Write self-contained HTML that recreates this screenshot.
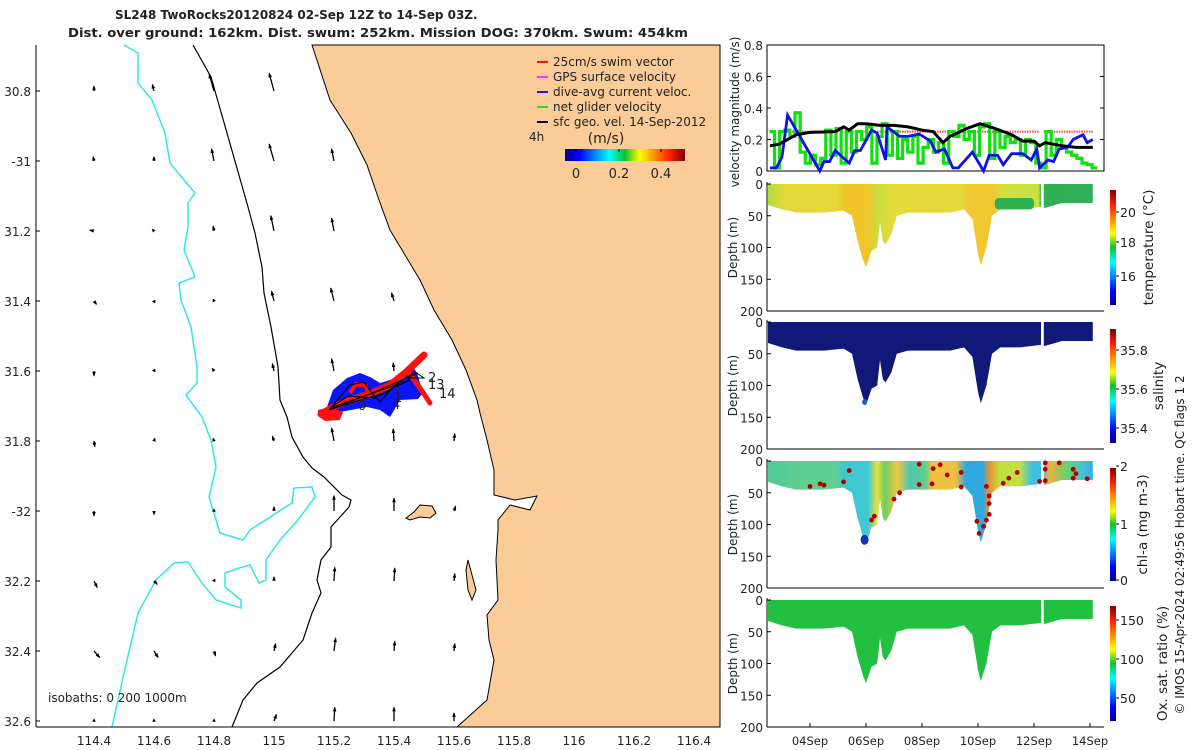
<!DOCTYPE html>
<html><head><meta charset="utf-8"><style>
body{margin:0;background:#fff}
svg{display:block;font-family:"DejaVu Sans","Liberation Sans",sans-serif}
text{fill:#222}
</style></head><body>
<svg id="s" width="1200" height="750" viewBox="0 0 1200 750" xmlns="http://www.w3.org/2000/svg">
<defs>
<linearGradient id="jet" x1="0" y1="1" x2="0" y2="0">
<stop offset="0" stop-color="#00008f"/><stop offset="0.12" stop-color="#0000ff"/><stop offset="0.37" stop-color="#00ffff"/><stop offset="0.5" stop-color="#10c030"/><stop offset="0.62" stop-color="#ffff00"/><stop offset="0.87" stop-color="#ff2000"/><stop offset="1" stop-color="#800000"/></linearGradient>
<linearGradient id="jeth" x1="0" y1="0" x2="1" y2="0">
<stop offset="0" stop-color="#00008f"/><stop offset="0.12" stop-color="#0000ff"/><stop offset="0.37" stop-color="#00ffff"/><stop offset="0.5" stop-color="#10c030"/><stop offset="0.62" stop-color="#ffff00"/><stop offset="0.87" stop-color="#ff2000"/><stop offset="1" stop-color="#800000"/></linearGradient>
<linearGradient id="tempG" gradientUnits="userSpaceOnUse" x1="767" y1="0" x2="1104" y2="0">
<stop offset="0" stop-color="#b0dc40"/><stop offset="0.05" stop-color="#e4d83a"/><stop offset="0.21" stop-color="#e6d83a"/><stop offset="0.23" stop-color="#f0c42a"/><stop offset="0.3" stop-color="#f0c42a"/><stop offset="0.33" stop-color="#c8e040"/><stop offset="0.37" stop-color="#e4da3a"/><stop offset="0.58" stop-color="#e6d83a"/><stop offset="0.6" stop-color="#f0c830"/><stop offset="0.67" stop-color="#f0c830"/><stop offset="0.7" stop-color="#d4e040"/><stop offset="0.805" stop-color="#c8e040"/><stop offset="0.815" stop-color="#30b050"/><stop offset="1" stop-color="#30b060"/></linearGradient>
<linearGradient id="chlG" gradientUnits="userSpaceOnUse" x1="767" y1="0" x2="1104" y2="0">
<stop offset="0" stop-color="#50c8a0"/><stop offset="0.1" stop-color="#60d090"/><stop offset="0.2" stop-color="#60d090"/><stop offset="0.23" stop-color="#40c8d0"/><stop offset="0.3" stop-color="#40c8d0"/><stop offset="0.326" stop-color="#e8e040"/><stop offset="0.35" stop-color="#70d060"/><stop offset="0.386" stop-color="#f0c840"/><stop offset="0.424" stop-color="#50c8b0"/><stop offset="0.47" stop-color="#60cc90"/><stop offset="0.49" stop-color="#f0c040"/><stop offset="0.56" stop-color="#f0c040"/><stop offset="0.59" stop-color="#30a8e0"/><stop offset="0.64" stop-color="#30a8e0"/><stop offset="0.66" stop-color="#e89030"/><stop offset="0.69" stop-color="#c0e040"/><stop offset="0.75" stop-color="#c0e040"/><stop offset="0.786" stop-color="#40c0e0"/><stop offset="0.815" stop-color="#40c0e0"/><stop offset="0.84" stop-color="#f0b040"/><stop offset="0.884" stop-color="#70d060"/><stop offset="0.944" stop-color="#40c0e0"/><stop offset="1" stop-color="#3090e0"/></linearGradient>
</defs>
<rect width="1200" height="750" fill="#fff"/>
<g id="map"></g>
<g id="right"></g>
</svg>
<script>
// ---------- DATA ----------
const lonTicks=[114.4,114.6,114.8,115,115.2,115.4,115.6,115.8,116,116.2,116.4];
const latTicks=[30.8,31,31.2,31.4,31.6,31.8,32,32.2,32.4,32.6];
const latTickLabels=["30.8","-31","31.2","31.4","31.6","31.8","-32","32.2","32.4","32.6"];
const vecLons=[114.4,114.6,114.8,115.0,115.2,115.4,115.6];
const vecU=[[0,-2,-6,-6,null,null,null],[-1,0,-3,-6,-3,null,null],[-5,-2,-1,-4,-3,null,null],[3,1,-1,-3,-4,-3,null],[0,1,-2,-2,-3,-1,null],[1,1,-1,-2,-3,-1,1],[0,0,0,0,0,0,2],[4,4,1,0,1,1,1],[7,5,2,2,2,1,1],[0,0,0,3,1,0,0]];
const vecV=[[6,8,21,22,null,null,null],[5,5,15,21,15,null,null],[1,2,6,19,16,null,null],[-4,-2,2,12,16,10,null],[-6,2,3,9,15,10,null],[-7,3,3,6,16,15,9],[-6,-4,2,5,19,16,6],[-8,-4,2,5,17,16,9],[-8,-8,-6,9,16,12,9],[2,2,2,8,17,17,10]];
// velocity panel
const velStart=2.55, velStep=0.183;
const netGlider=[0.25,0.02,0.25,0.26,0.22,0.37,0.12,0.05,0.10,0.04,0.08,0.26,0.10,0.27,0.05,0.25,0.12,0.25,0.20,0.28,0.05,0.22,0.30,0.10,0.25,0.08,0.20,0.12,0.22,0.05,0.15,0.20,0.12,0.18,0.05,0.25,0.22,0.29,0.20,0.25,0.10,0.28,0.30,0.08,0.25,0.15,0.22,0.18,0.20,0.10,0.20,0.18,0.05,0.02,0.25,0.10,0.20,0.15,0.12,0.10,0.08,0.05,0.04,0.02];
const geoDays=[2.57,2.9,3.5,4.0,4.9,5.2,5.4,5.7,6.0,6.5,7.0,7.5,8.0,8.4,8.75,9.0,9.6,10.07,10.6,11.2,11.6,12.0,12.2,12.4,13.0,13.5,14.1];
const geoVel=[0.16,0.17,0.23,0.245,0.25,0.28,0.26,0.30,0.30,0.29,0.29,0.28,0.26,0.25,0.18,0.22,0.27,0.30,0.27,0.23,0.19,0.19,0.16,0.18,0.16,0.15,0.15];
const daDays=[2.57,2.8,3.0,3.2,4.35,4.5,4.7,4.9,5.4,5.6,5.8,6.2,6.4,6.7,6.75,7.2,7.5,7.9,8.3,8.5,8.8,9.1,9.3,9.8,10.2,10.4,10.7,10.9,11.2,11.6,11.9,12.1,12.2,12.5,12.7,12.9,13.2,13.4,13.75,13.9,14.1];
const daVel=[0.02,0.02,0.09,0.355,0,0.06,0.06,0.13,0.05,0.13,0.13,0.26,0.24,0.07,0.28,0.22,0.22,0.235,0.19,0.12,0.14,0.02,0.02,0.12,0,0.1,0.1,0.04,0.11,0.11,0.07,0.14,0.02,0.07,0.06,0.14,0.15,0.2,0.23,0.18,0.2];
const swimSegs=[[3.0,12.2],[12.35,14.1]];
const swimVel=0.25;
// section profile (max depth of dives)
const profDays=[2.5,3.0,3.5,4.5,5.2,5.5,5.7,5.9,6.0,6.2,6.4,6.5,6.6,6.7,6.9,7.1,7.5,8.0,9.0,9.5,9.8,10.0,10.1,10.3,10.5,10.8,11.5,12.25];
const profDepth=[33,40,45,45,42,50,90,120,131,105,100,60,90,95,80,50,45,45,45,40,55,110,128,100,50,40,40,36];
const prof2Days=[12.35,12.6,13.0,13.5,14.1];
const prof2Depth=[38,35,30,30,30];
const chlDotDay=[4.0,4.36,5.4,6.2,6.3,7.0,7.2,7.9,7.9,8.4,8.36,8.65,8.9,9.4,9.4,9.96,10.04,10.2,10.3,10.4,10.4,10.4,10.3,10.9,11.1,11.4,12.2,12.4,12.4,12.4,12.9,13.4,13.4,13.9,13.5,4.5,5.2];
const chlDotDepth=[40,36,15,93,87,60,50,5,37,12,36,6,22,18,41,95,114,103,93,84,67,55,40,35,27,18,32,3,13,31,3,13,27,28,20,38,33];
const dateTicks=[4,6,8,10,12,14];
const dateLabels=["04Sep","06Sep","08Sep","10Sep","12Sep","14Sep"];

// ---------- helpers ----------
const NS="http://www.w3.org/2000/svg";
function mk(tag,attrs,parent,txt){const e=document.createElementNS(NS,tag);for(const k in attrs)e.setAttribute(k,attrs[k]);if(txt!==undefined)e.textContent=txt;parent.appendChild(e);return e;}
const map=document.getElementById('map'), right=document.getElementById('right');
const lx=l=>94+(l-114.4)*300, ly=l=>91+(l-30.8)*350;

// ---------- MAP ----------
let t=mk('text',{x:115,y:19,'font-size':12,'font-weight':'bold','text-anchor':'start'},map,"SL248 TwoRocks20120824 02-Sep 12Z to 14-Sep 03Z.");


t=mk('text',{x:378,y:37,'font-size':12,'font-weight':'bold','text-anchor':'middle',textLength:620,lengthAdjust:'spacingAndGlyphs'},map,"Dist. over ground: 162km. Dist. swum: 252km. Mission DOG: 370km. Swum: 454km");



const coast=[[312,45],[330,100],[351,133],[367,165],[379,200],[390,230],[420,280],[434,310],[452,340],[466,370],[477,400],[480,413],[487,440],[494,470],[494,495],[515,500],[537,496],[530,510],[510,505],[498,520],[498,530],[496,560],[498,600],[487,615],[489,640],[494,660],[487,700],[457,727],[720,727],[720,45]];
let p=mk('polygon',{points:coast.map(c=>c.join(',')).join(' '),fill:'#fbcb98',stroke:'#000','stroke-width':1},map);


p=mk('polygon',{points:"406,518 414,512 420,505 432,506 436,513 430,518 420,517 410,520",fill:'#fbcb98',stroke:'#000','stroke-width':1},map);


p=mk('polygon',{points:"468,560 472,575 476,590 472,600 468,590 466,570",fill:'#fbcb98',stroke:'#000','stroke-width':1},map);



const iso200=[[193,45],[211,77],[227,133],[248,207],[255,233],[262,267],[264,293],[271,327],[278,367],[280,400],[287,417],[292,437],[303,457],[312,468],[324,477],[342,495],[351,500],[349,507],[340,517],[331,527],[331,547],[321,560],[317,580],[321,593],[312,613],[303,640],[280,667],[257,683],[243,700],[232,727]];
p=mk('polyline',{points:iso200.map(c=>c.join(',')).join(' '),fill:'none',stroke:'#000','stroke-width':1.2},map);


const iso1000=[[124,45],[138,53],[138,83],[152,100],[165,133],[170,163],[184,180],[195,193],[188,203],[188,227],[184,250],[191,267],[195,277],[179,283],[181,300],[191,327],[197,367],[197,383],[186,395],[202,417],[211,440],[216,467],[209,497],[220,533],[243,540],[250,530],[292,503],[294,488],[312,487],[315,497],[298,520],[280,540],[266,560],[266,580],[259,583],[250,565],[239,568],[225,573],[225,587],[241,600],[241,608],[216,600],[202,583],[188,562],[174,563],[156,580],[138,613],[124,673],[112,727]];
p=mk('polyline',{points:iso1000.map(c=>c.join(',')).join(' '),fill:'none',stroke:'#33e6ee','stroke-width':1.5},map);



// vectors
latTicks.forEach((lat,i)=>{vecLons.forEach((lon,j)=>{const u=vecU[i][j],v=vecV[i][j];if(u===null)return;
 const x0=lx(lon),y0=ly(lat),x1=x0+u*0.8,y1=y0-v*0.8;
 const a=mk('g',{},map);
 
 
 mk('line',{x1:x0,y1:y0,x2:x1,y2:y1,stroke:'#000','stroke-width':1.3},a);
 const L=Math.hypot(x1-x0,y1-y0)||1,ux=(x1-x0)/L,uy=(y1-y0)/L,h=Math.min(4,L*0.5+1.5);
 mk('polygon',{points:`${x1+ux*1},${y1+uy*1} ${x1-ux*h-uy*1.8},${y1-uy*h+ux*1.8} ${x1-ux*h+uy*1.8},${y1-uy*h-ux*1.8}`,fill:'#000'},a);
});});

// glider track
const tr=mk('g',{},map);


mk('polygon',{points:"327,407 333,390 347,378 360,373 370,377 380,383 397,378 413,367 417,373 423,393 418,399 400,400 390,417 380,410 367,407 340,412",fill:'#0a14ff'},tr);
mk('polyline',{points:"321,414 335,406 350,400 370,394 390,385 405,373 424,355",fill:'none',stroke:'#ff1010','stroke-width':7,'stroke-linecap':'round'},tr);
mk('polyline',{points:"409,373 420,388 430,403",fill:'none',stroke:'#ff1010','stroke-width':5,'stroke-linecap':'round'},tr);
mk('polygon',{points:"318,410 330,407 343,412 340,420 325,421 318,416",fill:'#ff1010'},tr);
mk('polyline',{points:"350,393 356,384 366,386 368,394",fill:'none',stroke:'#ff1010','stroke-width':4},tr);
mk('polyline',{points:"329,410 350,385 364,382 372,393 380,402 395,385 415,372 424,378 405,378 388,392 360,400 329,410 372,393 418,373",fill:'none',stroke:'#000','stroke-width':1},tr);
mk('polyline',{points:"330,408 348,396 375,398 393,388 410,380 330,408",fill:'none',stroke:'#000','stroke-width':1},tr);
[["2",428,382],["13",428,389],["14",439,398],["1",394,402],["4",392,409],["0",358,410]].forEach(l=>{const e=mk('text',{x:l[1],y:l[2],'font-size':13},tr,l[0]);
 
 });

// axes
mk('line',{x1:36,y1:45,x2:36,y2:727,stroke:'#000','stroke-width':1},map);
mk('line',{x1:36,y1:727,x2:720,y2:727,stroke:'#000','stroke-width':1},map);
lonTicks.forEach(l=>{const e=mk('text',{x:lx(l),y:745,'font-size':12,'text-anchor':'middle'},map,String(l));
 
 });
latTicks.forEach((l,i)=>{mk('line',{x1:36,y1:ly(l),x2:40,y2:ly(l),stroke:'#000'},map);
 const e=mk('text',{x:31,y:ly(l)+5,'font-size':12,'text-anchor':'end'},map,latTickLabels[i]);
 
 });
t=mk('text',{x:48,y:702,'font-size':12},map,"isobaths: 0   200  1000m");



// legend
const lg=mk('g',{},map);


[["25cm/s swim vector","#ff1010"],["GPS surface velocity","#ff30ff"],["dive-avg current veloc.","#1020ff"],["net glider velocity","#20e020"],["sfc geo. vel. 14-Sep-2012","#000"]].forEach((e,i)=>{const y=66+i*15;
 mk('line',{x1:537,y1:y-4,x2:548,y2:y-4,stroke:e[1],'stroke-width':2},lg);
 const tt=mk('text',{x:553,y:y,'font-size':12},lg,e[0]);
 
 });
mk('text',{x:529,y:141,'font-size':12},lg,"4h");
mk('text',{x:606,y:143,'font-size':14,'text-anchor':'middle'},lg,"(m/s)");
p=mk('rect',{x:565,y:149,width:120,height:12,fill:'url(#jeth)'},lg);


[["0",576],["0.2",619],["0.4",661]].forEach(c=>{mk('line',{x1:c[1],y1:149,x2:c[1],y2:152,stroke:'#000'},lg);mk('text',{x:c[1],y:178,'font-size':13,'text-anchor':'middle'},lg,c[0]);});

// ---------- RIGHT PANELS ----------
const X0=767,X1=1104;
const tx=d=>810+(d-4)*28;
const vy=v=>171-v*157.5;
const vp=mk('g',{},right);


mk('rect',{x:X0,y:45,width:X1-X0,height:126,fill:'none',stroke:'#000'},vp);
[0,0.2,0.4,0.6,0.8].forEach(v=>{mk('line',{x1:X0,y1:vy(v),x2:X0+4,y2:vy(v),stroke:'#000'},vp);mk('line',{x1:X1-4,y1:vy(v),x2:X1,y2:vy(v),stroke:'#000'},vp);
 const e=mk('text',{x:763,y:vy(v)+5,'font-size':12,'text-anchor':'end'},vp,String(v));
 
 });
t=mk('text',{x:0,y:0,'font-size':12,'text-anchor':'middle',transform:'translate(739,112) rotate(-90)'},vp,"velocity magnitude (m/s)");


swimSegs.forEach(s=>{const e=mk('line',{x1:tx(s[0]),y1:vy(swimVel),x2:tx(s[1]),y2:vy(swimVel),stroke:'#ff4040','stroke-width':2,'stroke-dasharray':'1.5 1'},vp);
 
 });
let gp=netGlider.map((v,i)=>{const x1=tx(velStart+i*velStep),x2=tx(velStart+(i+1)*velStep);return `${x1},${vy(v)} ${x2},${vy(v)}`;}).join(' ');
p=mk('polyline',{points:gp,fill:'none',stroke:'#10e010','stroke-width':3.2},vp);


p=mk('polyline',{points:daDays.map((d,i)=>tx(d)+','+vy(daVel[i])).join(' '),fill:'none',stroke:'#1010e8','stroke-width':2.8},vp);


p=mk('polyline',{points:geoDays.map((d,i)=>tx(d)+','+vy(geoVel[i])).join(' '),fill:'none',stroke:'#000','stroke-width':3},vp);



const panels=[
 {top:184,name:'temperature',fill:'url(#tempG)',cbLabels:[["20",217],["18",247],["16",281]],title:"temperature (°C)",tx:1153,cbTop:190,cbBot:305},
 {top:322,name:'salinity',fill:'#101878',cbLabels:[["35.8",355],["35.6",394],["35.4",433]],title:"salinity",tx:1163,cbTop:329,cbBot:443},
 {top:461,name:'chlorophyll',fill:'url(#chlG)',cbLabels:[["2",471],["1",529],["0",585]],title:"chl-a (mg m-3)",tx:1147,cbTop:468,cbBot:581},
 {top:600,name:'oxygen',fill:'#22c040',cbLabels:[["150",625],["100",664],["50",703]],title:"Ox. sat. ratio (%)",tx:1167,cbTop:606,cbBot:721}
];
panels.forEach((P,k)=>{const g=mk('g',{},right);
 
 
 const dy=d=>P.top+d*127/200;
 const mkShape=(days,deps)=>{let pts=[tx(days[0])+','+dy(0)];days.forEach((d,i)=>pts.push(tx(d)+','+dy(deps[i])));pts.push(tx(days[days.length-1])+','+dy(0));return pts.join(' ');};
 const s1=mk('polygon',{points:mkShape(profDays,profDepth),fill:P.fill},g);
 
 
 const s2=mk('polygon',{points:mkShape(prof2Days,prof2Depth),fill:P.fill},g);
 
 
 if(P.name==='temperature'){mk('rect',{x:tx(10.6),y:dy(22),width:tx(12.0)-tx(10.6),height:dy(40)-dy(22),fill:'#30b050',rx:4},g);}
 if(P.name==='salinity'){mk('ellipse',{cx:tx(5.95),cy:dy(126),rx:2.5,ry:3,fill:'#2060c0'},g);}
 if(P.name==='chlorophyll'){mk('ellipse',{cx:tx(5.95),cy:dy(124),rx:4,ry:5,fill:'#1030c0'},g);
  chlDotDay.forEach((d,i)=>{const c=mk('circle',{cx:tx(d),cy:dy(chlDotDepth[i]),r:2.4,fill:'#b00000'},g);
   
   });}
 mk('line',{x1:X0,y1:P.top-2,x2:X0,y2:dy(200),stroke:'#000'},g);
 mk('line',{x1:X0,y1:dy(200),x2:X1,y2:dy(200),stroke:'#000'},g);
 [0,50,100,150,200].forEach(d=>{mk('line',{x1:X0,y1:dy(d),x2:X0+4,y2:dy(d),stroke:'#000'},g);
  const e=mk('text',{x:763,y:dy(d)+5,'font-size':12,'text-anchor':'end'},g,String(d));
  
  });
 const yt=mk('text',{x:0,y:0,'font-size':12,'text-anchor':'middle',transform:`translate(737,${dy(100)}) rotate(-90)`},g,"Depth (m)");
 
 
 const cb=mk('rect',{x:1110,y:P.cbTop,width:6,height:P.cbBot-P.cbTop,fill:'url(#jet)'},g);
 
 
 P.cbLabels.forEach(l=>{mk('line',{x1:1116,y1:l[1]-5,x2:1119,y2:l[1]-5,stroke:'#000'},g);mk('text',{x:1120,y:l[1],'font-size':12.5},g,l[0]);});
 const ct=mk('text',{x:0,y:0,'font-size':13.5,'text-anchor':'middle',transform:`translate(${P.tx},${(P.cbTop+P.cbBot)/2}) rotate(-90)`},g,P.title);
 
 
});
dateTicks.forEach((d,i)=>{mk('line',{x1:tx(d),y1:727,x2:tx(d),y2:723,stroke:'#000'},right);
 const e=mk('text',{x:tx(d),y:745,'font-size':11.5,'text-anchor':'middle'},right,dateLabels[i]);
 
 });
t=mk('text',{x:0,y:0,'font-size':12,'text-anchor':'middle',transform:'translate(1184,545) rotate(-90)'},right,"© IMOS 15-Apr-2024 02:49:56 Hobart time. QC flags 1  2");


</script>
</body></html>
